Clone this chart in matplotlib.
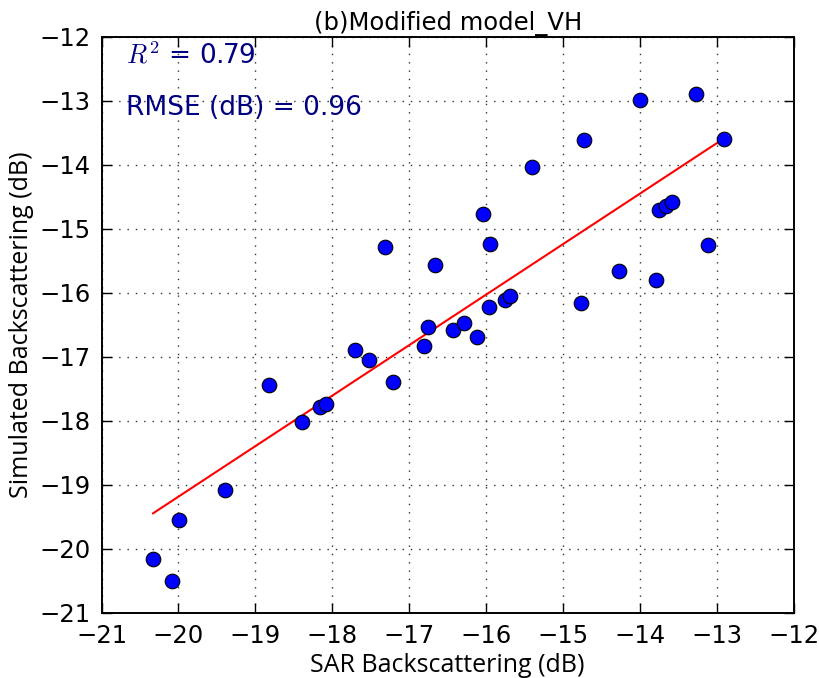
import numpy as np
import matplotlib
matplotlib.use("Agg")
from matplotlib import pyplot as plt

sar_db = [-20.33, -20.09, -19.99, -19.40, -18.82, -18.40, -18.16, -18.08,
          -17.70, -17.52, -17.32, -17.21, -16.81, -16.76, -16.67, -16.43,
          -16.29, -16.12, -16.04, -15.96, -15.95, -15.76, -15.69, -15.40,
          -14.77, -14.73, -14.28, -14.00, -13.79, -13.75, -13.66, -13.585,
          -13.27, -13.12, -12.91]
sim_db = [-20.17, -20.50, -19.56, -19.09, -17.45, -18.03, -17.79, -17.74,
          -16.90, -17.05, -15.28, -17.39, -16.84, -16.53, -15.57, -16.58,
          -16.48, -16.69, -14.77, -16.22, -15.24, -16.11, -16.05, -14.03,
          -16.16, -13.62, -15.67, -12.99, -15.80, -14.71, -14.65, -14.59,
          -12.90, -15.25, -13.60]
ticks = [-21, -20, -19, -18, -17, -16, -15, -14, -13, -12]
r2_text = r'$R^2$ = 0.79'
rmse_text = 'RMSE (dB) = 0.96'

plt.rcParams['mathtext.fontset'] = 'cm'
plt.rcParams['font.family'] = 'DejaVu Sans'

fig = plt.figure(figsize=(8.2, 6.78), dpi=100)
ax = fig.add_axes([0.1238, 0.0966, 0.8444, 0.8493])

x = np.array(sar_db)
y = np.array(sim_db)
ax.plot(x, y, 'o', color='blue', markeredgecolor='black', markeredgewidth=0.8,
        markersize=10.5, zorder=3)

# linear fit line
k, b = np.polyfit(x, y, 1)
xl = np.array([x.min(), x.max()])
ax.plot(xl, k * xl + b, '-', color='red', linewidth=1.5, zorder=2)

ax.set_xlim(-21, -12)
ax.set_ylim(-21, -12)
ax.set_xticks(ticks)
ax.set_yticks(ticks)
ax.grid(True, color='#333333', linestyle=(0, (1, 5)), linewidth=1.0)
ax.tick_params(direction='in', top=True, right=True, length=7, width=1.0,
               labelsize=17.5, pad=8)
for s in ax.spines.values():
    s.set_linewidth(1.4)

ax.set_xlabel('SAR Backscattering (dB)', fontsize=18, family='Open Sans', labelpad=4)
ax.set_ylabel('Simulated Backscattering (dB)', fontsize=18, family='Open Sans', labelpad=4)
ax.set_title('(b)Modified model_VH', fontsize=17.5, pad=5)

ax.text(0.035, 0.954, r2_text, transform=ax.transAxes, color='#000080', fontsize=19)
ax.text(0.035, 0.864, rmse_text, transform=ax.transAxes, color='#000080', fontsize=19)

fig.savefig('out.png', dpi=100)
